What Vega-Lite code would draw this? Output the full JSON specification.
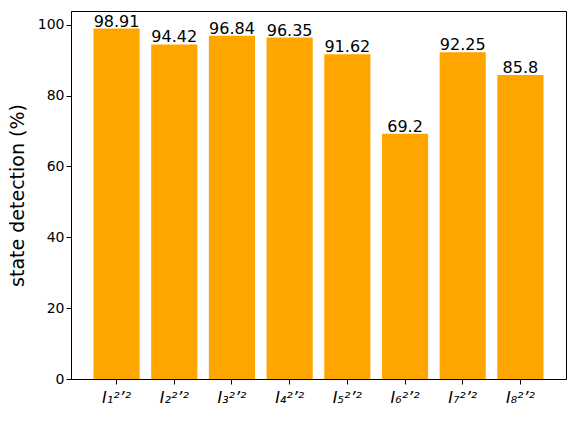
{
  "$schema": "https://vega.github.io/schema/vega-lite/v6.json",
  "width": 495,
  "height": 368,
  "autosize": {"type": "none"},
  "padding": {"left": 71, "top": 11, "right": 10, "bottom": 43},
  "config": {
    "font": "DejaVu Sans",
    "view": {"stroke": "black", "strokeWidth": 1},
    "axis": {
      "domainColor": "black",
      "tickColor": "black",
      "labelColor": "black",
      "titleColor": "black",
      "grid": false,
      "tickSize": 5,
      "labelFontSize": 14,
      "titleFontWeight": "normal"
    }
  },
  "data": {
    "values": [
      {"label": "I₁²’²", "value": 98.91},
      {"label": "I₂²’²", "value": 94.42},
      {"label": "I₃²’²", "value": 96.84},
      {"label": "I₄²’²", "value": 96.35},
      {"label": "I₅²’²", "value": 91.62},
      {"label": "I₆²’²", "value": 69.2},
      {"label": "I₇²’²", "value": 92.25},
      {"label": "I₈²’²", "value": 85.8}
    ]
  },
  "encoding": {
    "x": {
      "field": "label",
      "type": "nominal",
      "sort": null,
      "scale": {"paddingInner": 0.2, "paddingOuter": 0.39},
      "axis": {"title": null, "labelAngle": 0, "labelFontStyle": "italic", "labelFontSize": 16, "labelPadding": 5}
    },
    "y": {
      "field": "value",
      "type": "quantitative",
      "scale": {"domain": [0, 103.86], "nice": false},
      "axis": {"title": "state detection (%)", "titleFontSize": 19, "values": [0, 20, 40, 60, 80, 100], "titlePadding": 10}
    }
  },
  "layer": [
    {"mark": {"type": "bar", "color": "#FFA500"}},
    {
      "mark": {"type": "text", "baseline": "bottom", "dy": 1, "fontSize": 16, "color": "black"},
      "encoding": {"text": {"field": "value", "type": "quantitative"}}
    }
  ]
}
